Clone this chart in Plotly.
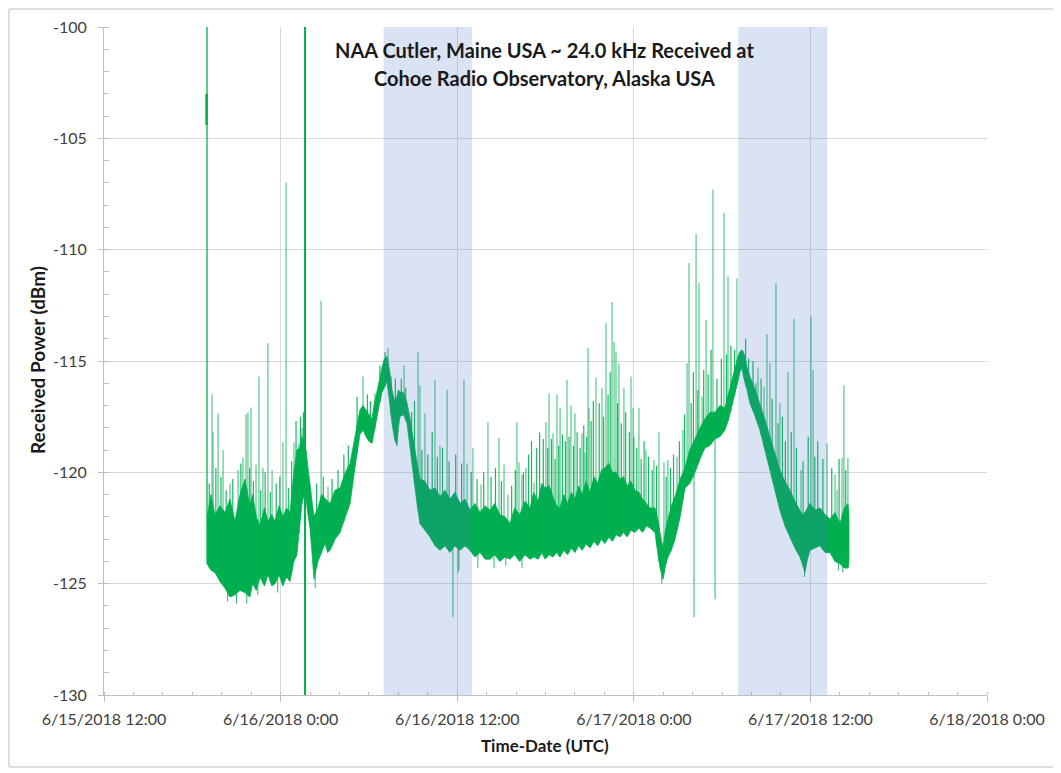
import pandas as pd
import numpy as np
import plotly.graph_objects as go

BASE = pd.Timestamp("2018-06-15 00:00")

# ---- dense noise band: hours after 6/15/2018 0:00 UTC, lower / upper edge (dBm)
band_hours = [19.00, 19.27, 19.54, 19.88, 20.22, 20.56, 20.90, 21.24, 21.58, 21.90,
              22.10, 22.35, 22.60, 22.90, 23.15, 23.40, 23.62, 23.90, 24.15, 24.40,
              24.64, 24.90, 25.11, 25.30, 25.45, 25.60, 25.73, 25.86, 26.00, 26.13,
              26.27, 26.40, 26.54, 26.78, 27.02, 27.20, 27.36, 27.70, 28.04, 28.40,
              28.72, 29.05, 29.39, 29.60, 29.80, 30.00, 30.21, 30.35, 30.48, 30.70,
              30.89, 31.05, 31.23, 31.40, 31.57, 31.75, 31.91, 32.00, 32.11, 32.35,
              32.59, 32.80, 33.00, 33.25, 33.47, 33.80, 34.15, 34.50, 34.83, 35.17,
              35.51, 35.85, 36.19, 36.53, 36.87, 37.20, 37.55, 37.90, 38.23, 38.55,
              38.90, 39.25, 39.59, 39.90, 40.25, 40.60, 40.95, 41.20, 41.50, 41.75,
              41.97, 42.25, 42.50, 42.75, 42.98, 43.25, 43.50, 43.75, 44.00, 44.25,
              44.50, 44.75, 45.02, 45.30, 45.55, 45.80, 46.04, 46.30, 46.55, 46.80,
              47.06, 47.30, 47.55, 47.80, 48.08, 48.35, 48.60, 48.85, 49.10, 49.44,
              49.60, 49.78, 49.98, 50.15, 50.32, 50.55, 50.80, 51.15, 51.48, 51.80,
              52.16, 52.50, 52.83, 53.17, 53.51, 53.85, 54.19, 54.45, 54.67, 54.90,
              55.08, 55.20, 55.35, 55.45, 55.55, 55.70, 55.89, 56.20, 56.57, 56.90,
              57.25, 57.60, 57.93, 58.27, 58.61, 58.95, 59.29, 59.45, 59.63, 59.80,
              59.97, 60.30, 60.65, 61.00, 61.33, 61.67, 62.01, 62.30, 62.55, 62.62]
band_low = [-124.1, -124.4, -124.5, -124.9, -125.2, -125.6, -125.5, -125.3, -125.4, -125.6,
            -125.0, -125.3, -124.7, -125.1, -124.6, -125.1, -125.0, -124.6, -125.1, -124.7,
            -124.9, -124.0, -123.7, -122.4, -121.4, -121.0, -121.2, -121.9, -122.5, -123.6,
            -124.8, -124.4, -124.0, -123.6, -123.2, -123.6, -123.5, -123.0, -122.7, -122.0,
            -121.4, -119.8, -118.3, -118.1, -118.4, -118.6, -118.7, -118.3, -117.8, -117.0,
            -116.4, -116.2, -115.9, -116.8, -117.8, -118.5, -118.8, -118.0, -117.5, -117.4,
            -117.8, -118.8, -119.9, -121.3, -122.3, -122.6, -122.9, -123.3, -123.5, -123.3,
            -123.6, -123.3, -123.5, -123.3, -123.5, -123.8, -123.6, -123.9, -123.9, -123.7,
            -124.0, -123.8, -123.9, -123.7, -124.0, -123.7, -123.9, -123.8, -123.9, -123.6,
            -123.9, -123.7, -123.8, -123.6, -123.8, -123.5, -123.7, -123.4, -123.6, -123.3,
            -123.5, -123.2, -123.4, -123.1, -123.3, -123.0, -123.2, -122.9, -123.1, -122.8,
            -122.9, -122.7, -122.9, -122.6, -122.7, -122.5, -122.7, -122.4, -122.5, -122.7,
            -123.5, -124.3, -124.8, -124.2, -123.8, -123.5, -123.0, -122.0, -120.7, -120.5,
            -120.0, -119.4, -118.9, -118.8, -118.5, -118.4, -118.1, -117.6, -117.1, -116.4,
            -115.9, -115.5, -115.3, -115.7, -116.0, -116.3, -116.9, -117.4, -118.1, -119.0,
            -119.9, -120.8, -121.7, -122.4, -122.9, -123.4, -123.8, -124.1, -124.5, -123.9,
            -123.5, -123.4, -123.3, -123.6, -123.6, -124.0, -124.1, -124.3, -124.3, -124.0]
band_high = [-122.0, -121.0, -121.9, -121.5, -121.8, -121.2, -122.2, -121.0, -120.3, -121.5,
             -121.0, -122.0, -122.4, -121.6, -122.2, -121.9, -122.2, -121.5, -122.0, -121.6,
             -121.8, -120.0, -119.0, -118.9, -118.4, -118.7, -119.0, -119.8, -120.5, -121.2,
             -122.0, -121.8, -121.6, -121.0, -121.2, -121.3, -121.4, -120.8, -120.7, -120.0,
             -119.6, -118.4, -117.2, -117.0, -117.2, -117.4, -117.6, -117.0, -116.6, -115.8,
             -115.3, -114.9, -114.8, -115.4, -116.3, -116.8, -116.6, -116.3, -116.4, -116.4,
             -116.9, -117.6, -118.5, -119.5, -120.3, -120.4, -120.8, -120.7, -121.1, -120.8,
             -121.2, -120.9, -121.4, -121.2, -121.7, -121.4, -121.8, -121.5, -121.7, -121.4,
             -121.9, -122.0, -122.3, -121.6, -121.9, -121.3, -121.6, -120.9, -121.3, -120.5,
             -120.7, -120.6, -121.1, -121.5, -121.6, -121.0, -121.4, -120.9, -121.2, -120.6,
             -121.0, -120.4, -120.9, -120.2, -120.5, -119.9, -119.8, -119.6, -120.0, -120.0,
             -120.3, -120.2, -120.6, -120.4, -120.8, -120.9, -121.2, -121.4, -121.6, -121.6,
             -122.0, -122.7, -123.4, -122.6, -122.1, -121.5, -121.1, -120.3, -119.8, -119.0,
             -118.5, -118.0, -117.6, -117.3, -117.3, -117.0, -117.1, -116.4, -115.9, -115.2,
             -114.8, -114.6, -114.5, -114.6, -114.8, -115.3, -115.7, -116.2, -116.9, -117.6,
             -118.4, -119.2, -119.9, -120.4, -120.8, -121.3, -121.7, -121.9, -121.8, -121.6,
             -121.4, -121.7, -121.6, -121.9, -122.1, -121.8, -122.3, -121.6, -121.4, -121.9]

# ---- tall upward spikes: time (hours after 6/15 0:00) and peak value (dBm)
spike_hours = [19.34, 19.41, 19.75, 20.09, 20.56, 21.11, 21.44, 21.65, 21.78, 21.99,
               22.33, 22.53, 22.80, 23.14, 23.42, 24.16, 24.37, 24.91, 25.25, 25.45,
               26.75, 27.22, 29.60, 30.41, 31.30, 32.39, 33.34, 33.47, 33.81, 34.49,
               34.83, 35.31, 36.46, 36.67, 37.07, 37.62, 38.09, 38.84, 39.18, 39.45,
               40.06, 40.20, 40.40, 40.67, 41.22, 42.03, 42.24, 42.51, 42.78, 42.99,
               43.46, 43.73, 44.00, 44.48, 44.69, 44.89, 44.96, 45.43, 45.84, 46.11,
               46.52, 46.66, 46.79, 46.99, 47.33, 47.81, 47.95, 48.35, 48.83, 49.37,
               49.71, 50.05, 50.32, 50.94, 51.34, 51.62, 51.75, 52.23, 52.43, 52.64,
               52.91, 53.38, 54.13, 54.40, 55.01, 56.44, 56.85, 57.05, 57.25, 57.66,
               57.93, 58.48, 58.89, 59.36, 60.04, 60.18, 61.13, 61.67, 61.81, 62.15,
               62.28, 62.55]
spike_peak = [-116.5, -118.2, -117.35, -119.0, -120.5, -119.9, -119.35, -117.4, -117.3, -117.1,
              -119.65, -115.7, -119.8, -114.2, -119.9, -118.65, -107.0, -118.65, -118.7, -118.0,
              -112.3, -120.65, -115.7, -116.45, -114.4, -115.2, -114.6, -116.1, -117.35, -115.85,
              -118.8, -116.3, -115.85, -119.6, -118.9, -120.55, -117.75, -118.45, -119.65, -121.0,
              -117.75, -119.55, -120.1, -119.8, -120.45, -117.75, -116.45, -118.25, -116.5, -117.1,
              -115.85, -117.0, -117.35, -118.25, -119.1, -114.4, -117.1, -115.75, -116.2, -113.3,
              -112.35, -114.15, -114.6, -115.1, -116.2, -115.7, -117.1, -117.1, -119.0, -119.45,
              -118.2, -119.55, -119.45, -119.3, -118.1, -115.1, -110.6, -109.3, -111.5, -116.6,
              -113.15, -107.3, -108.35, -111.2, -111.3, -115.3, -116.15, -113.8, -115.1, -111.5,
              -116.9, -115.5, -113.1, -119.9, -113.0, -115.4, -118.7, -120.1, -120.8, -119.35,
              -116.1, -119.35]

# ---- smaller spikes riding on the band
small_hours = [19.15, 19.60, 19.95, 20.30, 20.75, 21.30, 21.90, 22.15, 22.65, 22.95,
               23.30, 23.70, 23.95, 24.55, 24.75, 25.05, 25.35, 25.55, 26.45, 26.90,
               27.50, 27.90, 28.30, 28.60, 29.20, 29.90, 30.10, 30.75, 31.10, 31.50,
               31.80, 32.20, 32.50, 32.90, 33.10, 33.60, 34.00, 34.30, 34.65, 35.00,
               35.45, 35.90, 36.30, 36.95, 37.35, 37.80, 38.30, 38.60, 39.00, 39.70,
               39.95, 40.50, 40.85, 41.05, 41.40, 41.60, 41.85, 42.15, 42.40, 42.65,
               42.90, 43.15, 43.35, 43.60, 43.90, 44.15, 44.35, 44.60, 44.80, 45.10,
               45.25, 45.65, 45.95, 46.25, 46.40, 46.90, 47.15, 47.45, 47.70, 48.00,
               48.20, 48.50, 48.70, 49.00, 49.25, 49.55, 50.20, 50.50, 50.70, 51.10,
               51.45, 51.90, 52.05, 52.35, 52.75, 53.05, 53.25, 53.65, 53.95, 54.30,
               54.60, 54.85, 55.60, 55.80, 56.10, 56.30, 56.65, 57.40, 57.80, 58.10,
               58.30, 58.70, 59.05, 59.50, 59.85, 60.30, 60.50, 60.85, 61.45, 61.95,
               62.40]
small_peak = [-120.5, -119.8, -120.2, -120.8, -120.3, -119.6, -119.8, -120.4, -120.8, -120.0,
              -120.9, -120.5, -120.2, -120.7, -119.5, -117.7, -117.5, -117.3, -120.5, -120.2,
              -120.3, -119.9, -119.2, -118.8, -116.6, -116.5, -116.8, -115.2, -114.6, -115.7,
              -115.8, -115.8, -116.2, -117.3, -116.8, -119.0, -119.2, -118.2, -119.3, -118.9,
              -119.5, -119.2, -119.6, -120.0, -120.3, -120.0, -120.2, -119.8, -120.4, -120.6,
              -119.9, -120.0, -119.2, -118.6, -118.9, -118.2, -118.5, -118.9, -118.5, -119.4,
              -118.8, -118.3, -118.6, -118.4, -118.8, -118.2, -118.9, -117.9, -118.4, -117.7,
              -116.8, -116.9, -117.5, -116.5, -115.5, -116.9, -117.8, -117.3, -118.2, -118.4,
              -118.9, -119.4, -118.6, -119.3, -119.9, -119.7, -120.2, -119.8, -119.2, -118.6,
              -117.4, -116.9, -115.5, -116.3, -115.4, -115.6, -114.5, -115.8, -114.9, -114.7,
              -114.3, -114.5, -114.0, -114.9, -115.0, -116.0, -115.8, -116.7, -117.8, -117.5,
              -118.6, -118.2, -118.9, -119.5, -118.4, -119.3, -118.6, -119.4, -119.8, -119.4,
              -119.9]

# ---- downward spikes: time and minimum value (dBm)
dip_hours = [20.40, 21.00, 21.70, 22.45, 23.80, 26.35, 35.71, 36.05, 36.12, 37.40,
             38.50, 39.30, 40.40, 49.90, 52.09, 53.52, 59.60, 61.90, 62.20]
dip_low = [-125.8, -125.9, -125.9, -125.5, -125.4, -125.2, -126.5, -124.5, -124.4, -124.3,
           -124.3, -124.2, -124.3, -125.0, -126.5, -125.7, -124.7, -124.4, -124.5]

# ---- off-scale events at the start and at 6/16 ~01:40
onset_hour = 19.00
onset_peak = -99.0
onset_step = [-103.0, -104.4]
burst_hour = 25.66
burst_range = [-99.0, -131.0]

# ---- shaded intervals (hours after 6/15 0:00)
shade_start = [31.0, 55.1]
shade_end = [37.0, 61.15]

# ---- axis tick labels
y_ticks = [-130, -125, -120, -115, -110, -105, -100]
y_labels = ["-130", "-125", "-120", "-115", "-110", "-105", "-100"]

GREEN = "#00B050"


def t(hours):
    return BASE + pd.to_timedelta(np.asarray(hours, dtype=float), unit="h")


fig = go.Figure()

# dense band
bt = list(t(band_hours))
fig.add_trace(go.Scatter(
    x=bt + bt[::-1], y=band_high + band_low[::-1],
    fill="toself", fillcolor=GREEN, mode="lines",
    line=dict(color=GREEN, width=0.8), hoverinfo="skip", showlegend=False))


def segments(hours, ends, base_vals):
    xs, ys = [], []
    for h, p, b in zip(hours, ends, base_vals):
        tt = t([h])[0]
        xs += [tt, tt, None]
        ys += [b, p, None]
    return xs, ys


sx, sy = segments(spike_hours, spike_peak, np.interp(spike_hours, band_hours, band_low))
fig.add_trace(go.Scatter(x=sx, y=sy, mode="lines", line=dict(color=GREEN, width=1),
                         opacity=0.8, hoverinfo="skip", showlegend=False))
mx, my = segments(small_hours, small_peak, np.interp(small_hours, band_hours, band_low))
fig.add_trace(go.Scatter(x=mx, y=my, mode="lines", line=dict(color=GREEN, width=1.2),
                         opacity=0.9, hoverinfo="skip", showlegend=False))
dx, dy = segments(dip_hours, dip_low, np.interp(dip_hours, band_hours, band_high))
fig.add_trace(go.Scatter(x=dx, y=dy, mode="lines", line=dict(color=GREEN, width=1),
                         opacity=0.85, hoverinfo="skip", showlegend=False))

fig.add_trace(go.Scatter(x=[t([onset_hour])[0]] * 2, y=[band_low[0], onset_peak], mode="lines",
                         line=dict(color=GREEN, width=1.3), hoverinfo="skip", showlegend=False))
fig.add_trace(go.Scatter(x=[t([onset_hour - 0.03])[0]] * 2, y=onset_step, mode="lines",
                         line=dict(color=GREEN, width=2.5), hoverinfo="skip", showlegend=False))
fig.add_trace(go.Scatter(x=[t([burst_hour])[0]] * 2, y=burst_range, mode="lines",
                         line=dict(color=GREEN, width=2), hoverinfo="skip", showlegend=False))

shapes = []
for s, e in zip(shade_start, shade_end):
    shapes.append(dict(type="rect", xref="x", yref="paper", x0=t([s])[0], x1=t([e])[0],
                       y0=0, y1=1, fillcolor="rgba(68,114,196,0.2)", line=dict(width=0),
                       layer="above"))
# outer chart border
shapes.append(dict(type="rect", xref="paper", yref="paper", x0=-0.1076, x1=1.0759,
                   y0=-0.1078, y1=1.0269, line=dict(color="#BFBFBF", width=1),
                   fillcolor="rgba(0,0,0,0)", layer="below"))

FONT = "Lato, 'Open Sans', sans-serif"
TXT = "#1a1a1a"

annotations = [
    dict(text="<b>NAA Cutler, Maine USA ~ 24.0 kHz Received at</b>", xref="paper", yref="paper",
         x=0.4994, y=0.9656, xanchor="center", yanchor="middle", showarrow=False,
         font=dict(family=FONT, size=20, color=TXT)),
    dict(text="<b>Cohoe Radio Observatory, Alaska USA</b>", xref="paper", yref="paper",
         x=0.4994, y=0.9237, xanchor="center", yanchor="middle", showarrow=False,
         font=dict(family=FONT, size=20, color=TXT)),
    dict(text="<b>Time-Date (UTC)</b>", xref="paper", yref="paper",
         x=0.4994, y=-0.0749, xanchor="center", yanchor="middle", showarrow=False,
         font=dict(family=FONT, size=17, color=TXT)),
    dict(text="<b>Received Power (dBm)</b>", xref="paper", yref="paper", textangle=-90,
         x=-0.0747, y=0.5015, xanchor="center", yanchor="middle", showarrow=False,
         font=dict(family=FONT, size=19, color=TXT)),
]

fig.update_layout(
    width=1053, height=765,
    margin=dict(l=96, r=74, t=19, b=78, autoexpand=False),
    paper_bgcolor="white", plot_bgcolor="white",
    font=dict(family=FONT, size=16, color="#404040"),
    shapes=shapes,
    showlegend=False,
    annotations=annotations,
)

fig.update_xaxes(
    type="date",
    range=[pd.Timestamp("2018-06-15 12:00"), pd.Timestamp("2018-06-18 00:00")],
    tick0=pd.Timestamp("2018-06-15 12:00"), dtick=12 * 3600 * 1000,
    tickformat="%-m/%-d/%Y %-H:%M",
    showgrid=True, gridcolor="#D9D9D9", gridwidth=1,
    showline=True, linecolor="#BFBFBF", linewidth=1,
    ticks="outside", ticklen=6, tickcolor="#BFBFBF",
    minor=dict(dtick=2 * 3600 * 1000, ticks="inside", ticklen=3, tickcolor="#BFBFBF",
               showgrid=False),
    tickfont=dict(size=16, color="#404040"),
    ticklabelstandoff=4,
    zeroline=False,
)
fig.update_yaxes(
    range=[-130, -100], tickvals=y_ticks, ticktext=y_labels,
    showgrid=True, gridcolor="#D9D9D9", gridwidth=1,
    showline=True, linecolor="#BFBFBF", linewidth=1,
    ticks="outside", ticklen=5, tickcolor="#BFBFBF",
    minor=dict(dtick=1, ticks="inside", ticklen=5, tickcolor="#BFBFBF", showgrid=False),
    tickfont=dict(size=16, color="#404040"),
    ticklabelstandoff=8,
    zeroline=False,
)

fig.write_html("out.html")
